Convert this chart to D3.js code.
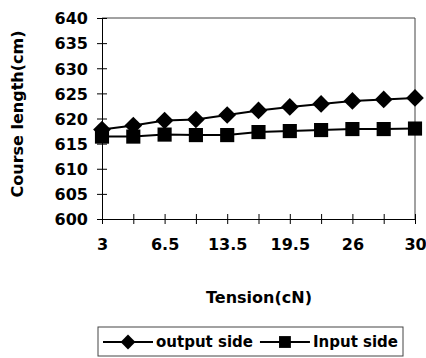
<!DOCTYPE html>
<html lang="en">
<head>
    <meta charset="UTF-8"/>
    <title>Course length</title>
    <script src="https://d3js.org/d3.v7.min.js"></script>
    <style>
        body { margin: 0; background: white; }
        text { font-family: "DejaVu Sans", sans-serif; font-weight: bold; fill: black; }
    </style>
</head>
<body>
<div class="chart"></div>

<script>

    // data
    const tension = ["3", "5", "6.5", "10", "13.5", "16.5", "19.5", "23", "26", "28", "30"];
    const outputSide = [617.8, 618.6, 619.6, 619.8, 620.7, 621.6, 622.3, 622.9, 623.5, 623.8, 624.1];
    const inputSide = [616.4, 616.4, 616.8, 616.7, 616.7, 617.3, 617.5, 617.7, 617.9, 617.9, 618.0];
    const yTicks = [600, 605, 610, 615, 620, 625, 630, 635, 640];

    const width = 426, height = 358;
    const margin = {top: 18, right: 11, bottom: 139, left: 102};
    const gW = width - margin.left - margin.right;
    const gH = height - margin.top - margin.bottom;

    const svg = d3.select(".chart")
        .append("svg")
        .attr("width", width)
        .attr("height", height);

    const g = svg.append("g")
        .attr("transform", `translate(${margin.left}, ${margin.top})`);

    const x = d3.scalePoint()
        .domain(tension)
        .range([0, gW]);

    const y = d3.scaleLinear()
        .domain([600, 640])
        .range([gH, 0]);

    // frame (top and right)
    g.append("path")
        .attr("d", `M0,0H${gW}V${gH}`)
        .attr("fill", "none")
        .attr("stroke", "#444")
        .attr("stroke-width", 1);

    // Y axis, ticks cross the line
    const yAxis = g.append("g")
        .call(d3.axisLeft(y).tickValues(yTicks).tickSize(0).tickPadding(14));
    yAxis.select(".domain").attr("stroke", "black");
    yAxis.selectAll(".tick line").attr("x1", -5).attr("x2", 5).attr("stroke", "black");
    yAxis.selectAll("text").style("font-size", "16px").attr("dy", "0.36em");

    // X axis, label every other category
    const xAxis = g.append("g")
        .attr("transform", `translate(0, ${gH})`)
        .call(d3.axisBottom(x).tickSize(0).tickPadding(0)
            .tickFormat((d, i) => i % 2 === 0 ? d : ""));
    xAxis.select(".domain").attr("stroke", "black");
    xAxis.selectAll(".tick line").attr("y1", -5).attr("y2", 5).attr("stroke", "black");
    xAxis.selectAll("text").style("font-size", "16px").attr("y", 25).attr("dy", "0.36em");

    // axis titles
    svg.append("text")
        .attr("transform", `translate(${margin.left + 157}, 297)`)
        .attr("text-anchor", "middle")
        .attr("dy", "0.36em")
        .style("font-size", "16px")
        .text("Tension(cN)");

    svg.append("text")
        .attr("transform", `translate(17, ${margin.top + 96}) rotate(-90)`)
        .attr("text-anchor", "middle")
        .attr("dy", "0.36em")
        .style("font-size", "16px")
        .text("Course length(cm)");

    const line = d3.line()
        .x((d, i) => x(tension[i]))
        .y(d => y(d));

    const series = [
        {name: "output side", values: outputSide, symbol: d3.symbolDiamond2, size: 200},
        {name: "Input side", values: inputSide, symbol: d3.symbolSquare, size: 200}
    ];

    series.forEach(s => {
        g.append("path")
            .datum(s.values)
            .attr("d", line)
            .attr("fill", "none")
            .attr("stroke", "black")
            .attr("stroke-width", 2);

        g.append("g")
            .selectAll("path")
            .data(s.values)
            .join("path")
            .attr("transform", (d, i) => `translate(${x(tension[i])}, ${y(d)})`)
            .attr("d", d3.symbol().type(s.symbol).size(s.size))
            .attr("fill", "black");
    });

    // legend
    const legend = svg.append("g")
        .attr("transform", "translate(98, 327)");

    legend.append("rect")
        .attr("width", 305)
        .attr("height", 29)
        .attr("fill", "white")
        .attr("stroke", "#444")
        .attr("stroke-width", 1);

    let lx = 5;
    series.forEach(s => {
        const item = legend.append("g").attr("transform", `translate(${lx}, 15)`);
        item.append("line")
            .attr("x1", 0).attr("x2", 50)
            .attr("stroke", "black").attr("stroke-width", 2);
        item.append("path")
            .attr("transform", "translate(25, 0)")
            .attr("d", d3.symbol().type(s.symbol).size(s.size * 0.7))
            .attr("fill", "black");
        const t = item.append("text")
            .attr("x", 53)
            .attr("dy", "0.36em")
            .style("font-size", "15px")
            .text(s.name);
        lx += 53 + t.node().getComputedTextLength() + 7;
    });

</script>
</body>
</html>
